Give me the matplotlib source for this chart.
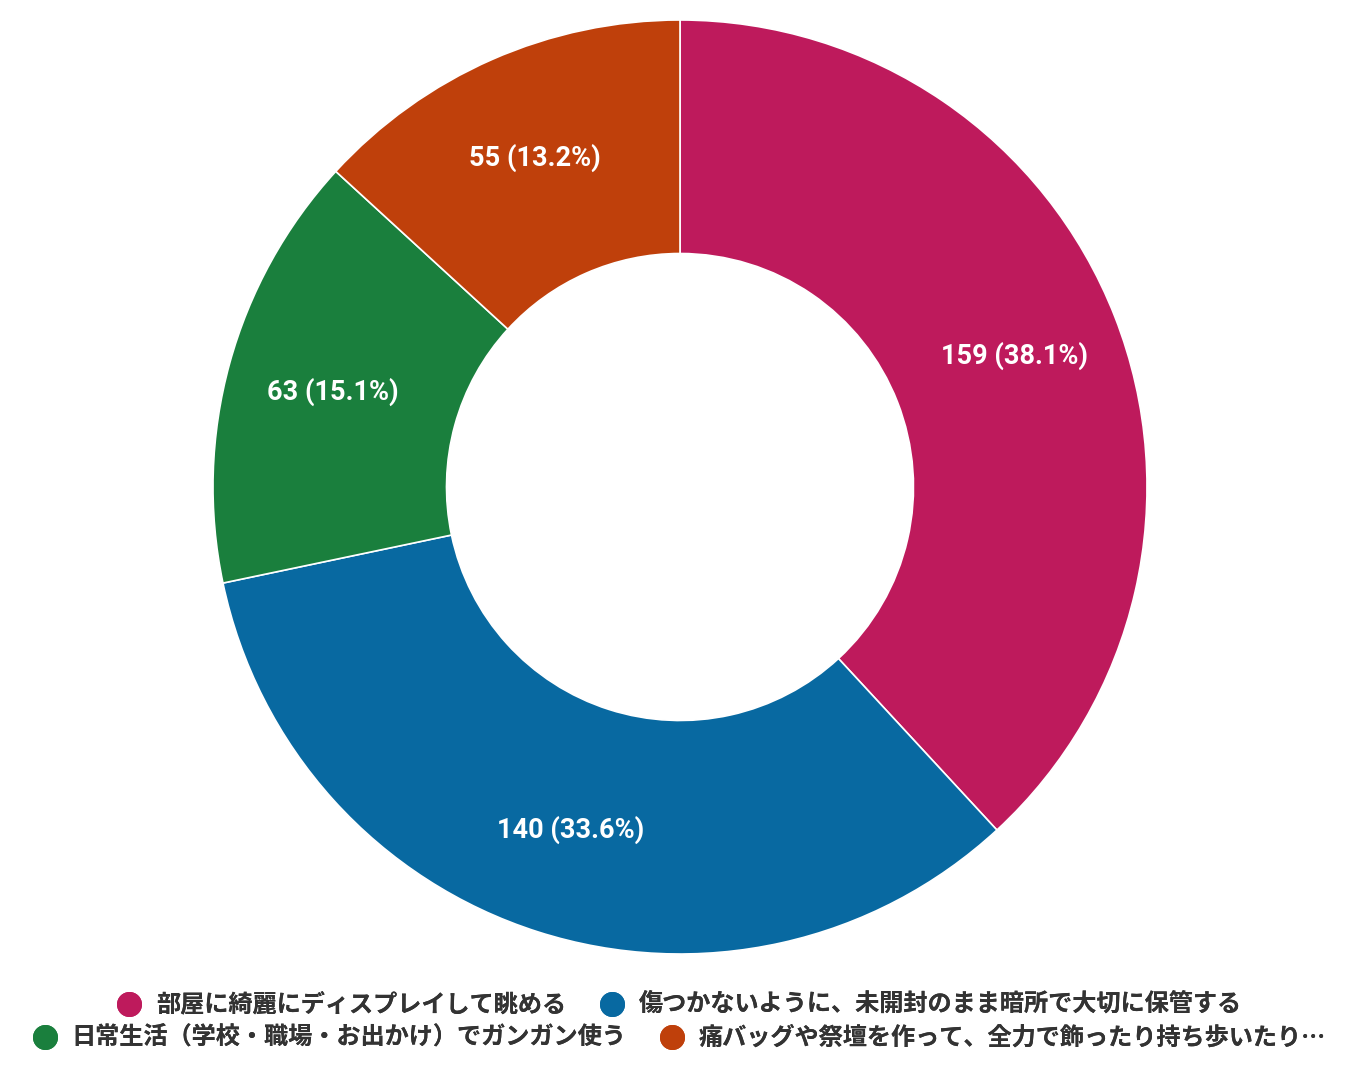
import numpy as np
import matplotlib.pyplot as plt
from matplotlib.lines import Line2D

plt.rcParams['font.family'] = ['Noto Sans CJK JP', 'DejaVu Sans']

labels = ['部屋に綺麗にディスプレイして眺める',
          '傷つかないように、未開封のまま暗所で大切に保管する',
          '日常生活（学校・職場・お出かけ）でガンガン使う',
          '痛バッグや祭壇を作って、全力で飾ったり持ち歩いたり…']
values = [159, 140, 63, 55]
colors = ['#BE1A5C', '#0869A1', '#1A7F3D', '#BF400B']

total = sum(values)

fig = plt.figure(figsize=(13.59, 10.77), dpi=100)
W, H = 1359, 1077
cx, cy, r = 680, 487, 467
ax = fig.add_axes([(cx - r) / W, (H - cy - r) / H, 2 * r / W, 2 * r / H])

ax.pie(values, colors=colors, startangle=90, counterclock=False,
       radius=1.0, wedgeprops=dict(width=0.5, edgecolor='white', linewidth=1.2))

# value labels in the middle of the ring
ang = 90.0
for v in values:
    sweep = 360.0 * v / total
    mid = np.deg2rad(ang - sweep / 2)
    ax.text(0.77 * np.cos(mid), 0.77 * np.sin(mid), f'{v} ({v / total * 100:.1f}%)',
            ha='center', va='center', color='white', fontsize=19.5, fontweight='bold',
            family=['Roboto', 'DejaVu Sans'])
    ang -= sweep
ax.set_xlim(-1, 1)
ax.set_ylim(-1, 1)
ax.set_aspect('equal')
ax.axis('off')

def make_handles(idx):
    return [Line2D([0], [0], marker='o', linestyle='none', markersize=17,
                   markerfacecolor=colors[i], markeredgecolor=colors[i]) for i in idx]

for row, idx in enumerate([[0, 1], [2, 3]]):
    leg = fig.legend(make_handles(idx), [labels[i] for i in idx], ncol=2,
                     loc='center', bbox_to_anchor=(0.5, 1 - (1005 + 33 * row) / H),
                     frameon=False, handletextpad=0.6, columnspacing=1.4,
                     handlelength=1.0, borderaxespad=0, borderpad=0,
                     prop=dict(family=['Noto Sans CJK JP', 'DejaVu Sans'], size=17.4, weight='bold'))
    for t in leg.get_texts():
        t.set_color('#333333')
    fig.add_artist(leg)

fig.savefig('out.png', dpi=100)
